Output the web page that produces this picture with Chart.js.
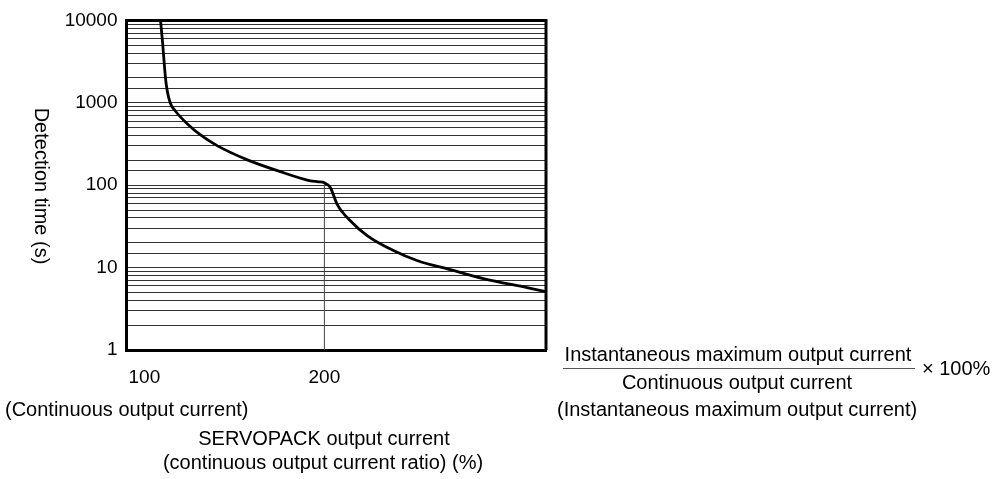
<!DOCTYPE html>
<html>
<head>
<meta charset="utf-8">
<script src="https://cdn.jsdelivr.net/npm/chart.js@4.4.1/dist/chart.umd.min.js"></script>
<style>
	html, body { margin: 0; padding: 0; background: #fff; }
	#wrap { width: 992px; height: 479px; position: relative; }
</style>
</head>
<body>
<div id="wrap"><canvas id="chart"></canvas></div>
<script>
// overload detection curve
const curveCurrent = [117.2, 118.2, 119.7, 120.6, 122.2, 124.7, 130.8, 137.4, 146, 161.1, 176.3, 192.9, 197, 200, 203, 206.4, 213.1, 221.6, 234.9, 246.8, 263.6, 280.3, 302.4, 312];
const curveTime = [10000, 5500, 2000, 1387, 980, 795, 553, 407, 300, 203, 150, 113, 110, 107, 94, 59, 37, 24.5, 16.1, 12.2, 9.44, 7.36, 5.71, 5.1];
const markerCurrent = [200, 200];
const markerTime = [1, 107];
const xTickValues = [100, 200];
const xTickLabels = [`100`, `200`];

const FONT = `"Liberation Sans", Arial, sans-serif`;

// texts around the plot plus the top/right frame
const annotations = {
	id: `annotations`,
	afterDraw(chart) {
		const {ctx, chartArea, scales} = chart;
		ctx.save();

		ctx.strokeStyle = `#000`;
		ctx.lineWidth = 3;
		ctx.beginPath();
		ctx.moveTo(chartArea.left, chartArea.top);
		ctx.lineTo(chartArea.right, chartArea.top);
		ctx.lineTo(chartArea.right, chartArea.bottom);
		ctx.stroke();

		ctx.fillStyle = `#000`;
		ctx.font = `19px ${FONT}`;
		ctx.textBaseline = `middle`;
		xTickValues.forEach((v, i) => {
			const px = scales.x.getPixelForValue(v);
			if (i === 0) {
				ctx.textAlign = `left`;
				ctx.fillText(xTickLabels[i], px + 2, 378);
			} else {
				ctx.textAlign = `center`;
				ctx.fillText(xTickLabels[i], px, 378);
			}
		});

		ctx.font = `20px ${FONT}`;
		ctx.textAlign = `left`;
		ctx.fillText(`(Continuous output current)`, 5, 410);
		ctx.fillText(`(Instantaneous maximum output current)`, 557, 410);
		ctx.fillText(`× 100%`, 922, 369);

		ctx.textAlign = `center`;
		ctx.fillText(`Instantaneous maximum output current`, 738, 355);
		ctx.fillText(`Continuous output current`, 737, 383);
		ctx.fillText(`SERVOPACK output current`, 324, 439);
		ctx.fillText(`(continuous output current ratio) (%)`, 323, 463);

		ctx.strokeStyle = `#555`;
		ctx.lineWidth = 1;
		ctx.beginPath();
		ctx.moveTo(563, 368.5);
		ctx.lineTo(915, 368.5);
		ctx.stroke();

		ctx.translate(41, 186);
		ctx.rotate(Math.PI / 2);
		ctx.fillText(`Detection time (s)`, 0, 0);
		ctx.restore();
	}
};

new Chart(document.getElementById(`chart`), {
	type: `line`,
	data: {
		datasets: [
			{
				data: curveCurrent.map((x, i) => ({x: x, y: curveTime[i]})),
				borderColor: `#000`,
				borderWidth: 2.8,
				pointRadius: 0,
				cubicInterpolationMode: `monotone`,
				fill: false
			},
			{
				data: markerCurrent.map((x, i) => ({x: x, y: markerTime[i]})),
				borderColor: `#444`,
				borderWidth: 1,
				pointRadius: 0,
				fill: false
			}
		]
	},
	options: {
		responsive: true,
		maintainAspectRatio: false,
		animation: false,
		events: [],
		layout: {padding: {left: 0, top: 19, right: 446, bottom: 0}},
		plugins: {legend: {display: false}, tooltip: {enabled: false}},
		scales: {
			x: {
				type: `linear`,
				min: 100,
				max: 312,
				ticks: {display: false},
				grid: {display: false},
				border: {color: `#000`, width: 3},
				afterFit(scale) { scale.height = 129; }
			},
			y: {
				type: `logarithmic`,
				min: 1,
				max: 10000,
				grid: {color: `#333`, lineWidth: 1, drawTicks: false},
				border: {color: `#000`, width: 3},
				ticks: {
					color: `#000`,
					padding: 9,
					autoSkip: false,
					font: {family: FONT, size: 19},
					callback: v => {
						const l = Math.log10(v);
						return Math.abs(l - Math.round(l)) < 1e-9 ? String(v) : ``;
					}
				},
				afterFit(scale) { scale.width = 126.5; }
			}
		}
	},
	plugins: [annotations]
});
</script>
</body>
</html>
